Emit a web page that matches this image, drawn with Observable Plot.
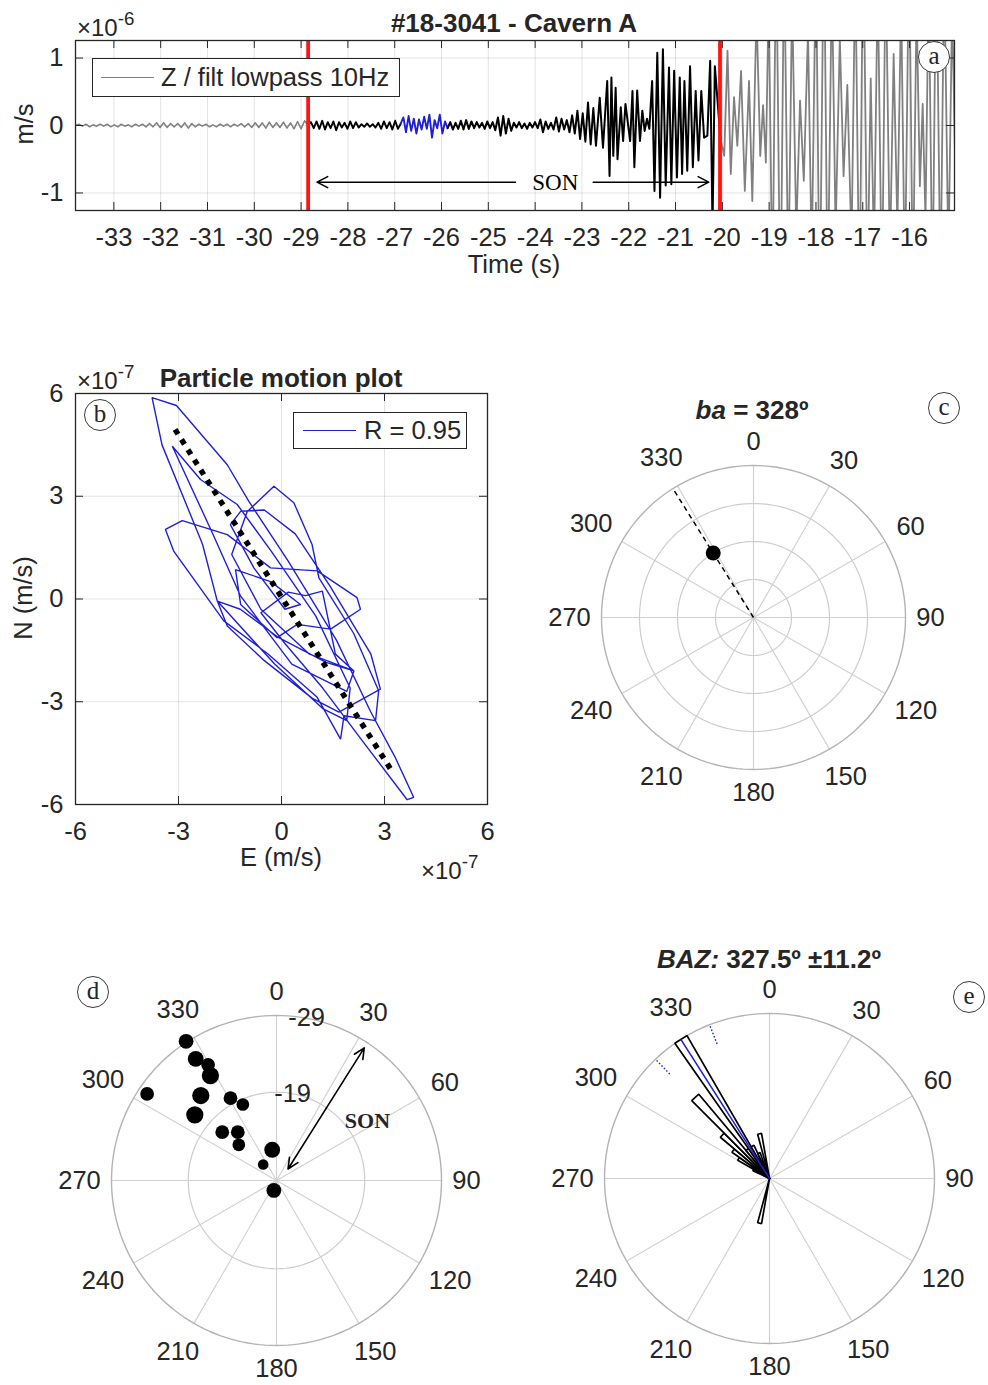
<!DOCTYPE html>
<html>
<head>
<meta charset="utf-8">
<script src="https://cdn.jsdelivr.net/npm/d3@7"></script>
<script src="https://cdn.jsdelivr.net/npm/@observablehq/plot@0.6"></script>
<style>
  html, body { margin: 0; padding: 0; background: #fff; overflow: hidden; }
  #page { position: relative; width: 988px; height: 1385px; overflow: hidden; background: #fff; }
  #page svg { position: absolute; }
  .sup { font-size: 0.78em; position: relative; top: -0.6em; }
</style>
</head>
<body>
<div id="page"></div>
<script>
// ---------------------------------------------------------------------------
// (a) Vertical component, lowpass 10 Hz, amplitudes in 1e-6 m/s
// ---------------------------------------------------------------------------
const timeTicks = [-33, -32, -31, -30, -29, -28, -27, -26, -25, -24, -23, -22, -21, -20, -19, -18, -17, -16];
const ampTicks = [-1, 0, 1];
const sonWindow = [-28.85, -20.05];

// evenly sampled stretches: [start, end] time and the extremes read along them
const preSpan = [-33.82, -28.85];
const preAmp = [0.00, 0.02, -0.01, 0.02, -0.02, 0.01, -0.01, 0.02, -0.01, 0.02,
  -0.02, 0.01, -0.02, 0.02, -0.01, 0.01, -0.02, 0.02, -0.01, 0.02,
  -0.02, 0.03, -0.02, 0.04, -0.03, 0.04, -0.03, 0.03, -0.02, 0.03,
  -0.03, 0.04, -0.04, 0.03, -0.02, 0.02, -0.01, 0.02, -0.02, 0.01,
  -0.02, 0.02, -0.01, 0.02, -0.02, 0.02, -0.01, 0.03, -0.02, 0.03,
  -0.03, 0.04, -0.03, 0.04, -0.04, 0.05, -0.03, 0.04, -0.03, 0.05,
  -0.04, 0.04, -0.05, 0.06, -0.05, 0.07, 0.00];

const sonSpan1 = [-28.85, -26.87];
const sonAmp1 = [0.00, 0.05, -0.04, 0.06, -0.05, 0.07, -0.06, 0.05, -0.04, 0.06, -0.07, 0.05,
  -0.03, 0.04, -0.05, 0.06, -0.04, 0.05, -0.03, 0.02, -0.02, 0.03, -0.02, 0.02, -0.03, 0.04,
  -0.05, 0.06, -0.04, 0.05, -0.06, 0.07, -0.05, 0.03];

// analysed window (blue)
const blueSpan = [-26.87, -25.87];
const blueAmp = [0.03, 0.12, -0.10, 0.14, -0.08, 0.10, -0.12, 0.09, -0.06, 0.13, -0.05, 0.16,
  -0.18, 0.08, -0.04, 0.16, -0.12, 0.06, -0.04];

const sonSpan2 = [-25.87, -22.70];
const sonAmp2 = [-0.04, 0.05, -0.06, 0.04, -0.05, 0.07, -0.06, 0.08, -0.05, 0.06,
  -0.04, 0.05, -0.03, 0.04, -0.05, 0.06, -0.04, 0.05, -0.07, 0.12,
  -0.15, 0.14, -0.12, 0.10, -0.08, 0.04, -0.03, 0.05, -0.04, 0.03,
  -0.05, 0.04, -0.03, 0.05, -0.04, 0.09, -0.10, 0.06, -0.05, 0.04,
  -0.06, 0.12, -0.09, 0.10, -0.06, 0.08, -0.10, 0.15, -0.12, 0.22,
  -0.20, 0.18, -0.24, 0.34, -0.28, 0.26, -0.30];

// main SON burst, extremes with their times
const burstTime = [-22.70, -22.62, -22.55, -22.46, -22.41, -22.37, -22.33, -22.28, -22.24, -22.17,
  -22.12, -22.07, -21.97, -21.92, -21.88, -21.82, -21.76, -21.71, -21.66, -21.61,
  -21.56, -21.50, -21.45, -21.39, -21.33, -21.27, -21.21, -21.14, -21.09, -21.03,
  -20.97, -20.91, -20.86, -20.81, -20.75, -20.69, -20.63, -20.57, -20.51, -20.45,
  -20.39, -20.32, -20.26, -20.21, -20.16, -20.04];
const burstAmp = [-0.30, 0.41, -0.33, 0.66, -0.75, 0.71, -0.45, 0.56, -0.50, 0.27,
  -0.23, 0.32, -0.23, 0.51, -0.62, 0.52, -0.23, 0.22, -0.08, 0.10,
  -0.05, 0.66, -0.97, 1.08, -1.07, 1.13, -0.89, 0.86, -0.87, 0.81,
  -0.77, 0.71, -0.72, 0.66, -0.67, 0.88, -0.62, 0.51, -0.52, 0.51,
  -0.18, -0.15, 0.96, -1.50, 0.88, -0.20];

// following arrivals (grey), clipped by the axes
const tailTime = [-20.04, -19.96, -19.89, -19.82, -19.75, -19.68, -19.60, -19.52, -19.43, -19.36,
  -19.27, -19.19, -19.13, -19.07, -19.01, -18.93, -18.85, -18.76, -18.68, -18.59,
  -18.51, -18.42, -18.34, -18.26, -18.17, -18.09, -18.00, -17.92, -17.83, -17.75,
  -17.66, -17.58, -17.49, -17.41, -17.33, -17.24, -17.16, -17.07, -16.99, -16.90,
  -16.83, -16.76, -16.68, -16.59, -16.51, -16.42, -16.34, -16.26, -16.18, -16.10,
  -16.01, -15.93, -15.85, -15.78, -15.72, -15.66, -15.59, -15.51, -15.43, -15.34,
  -15.26, -15.17, -15.09, -15.00];
const tailAmp = [-0.20, -0.45, 1.11, -0.72, 0.42, -0.30, 0.81, -0.97, 0.66, -1.12,
  1.70, -0.45, 0.30, -0.55, 1.90, -2.50, 2.80, -3.00, 2.60, -2.40,
  1.90, -1.60, 0.37, -0.82, 1.40, -2.00, 2.60, -2.90, 3.00, -2.70,
  2.20, -1.60, 1.30, -0.75, 0.60, -1.80, 2.40, -2.80, 3.00, -2.50,
  0.70, -1.90, 2.20, -2.60, 2.50, -2.00, 1.06, -1.50, 1.90, -2.40,
  2.70, -2.50, 1.80, -0.90, 0.32, -1.40, 2.20, -2.60, 2.80, -2.50,
  2.40, -2.00, 1.80, -1.50];

// ---------------------------------------------------------------------------
// (b) Particle motion, E / N in 1e-7 m/s
// ---------------------------------------------------------------------------
const enTicks = [-6, -3, 0, 3, 6];
const pmE = [0.55, -0.30, -1.34, -1.19, -0.13, 0.46, 1.43, 2.30, 2.20, 1.04,
  -0.32, -1.58, -2.89, -3.38, -3.14, -1.68, -0.40, 1.04, 1.72, 1.82,
  2.74, 2.83, 2.10, 1.09, 0.89, 0.36, -0.22, -1.00, -1.45, -0.60,
  0.80, 2.11, 1.90, 0.30, -1.20, -2.00, -3.18, -2.36, -1.29, -0.30,
  1.00, 2.00, 1.90, 1.20, -0.20, -1.87, -2.30, -3.48, -3.77, -3.06,
  -1.58, -0.95, 0.20, 1.60, 2.60, 3.30, 3.85, 3.66, 2.40, 1.20,
  0.10, -0.60, 0.20, 0.70, 1.19, 1.57, 2.11, 1.30, -0.08, -1.20,
  -1.87, -1.58, -0.50, 0.90, 1.67, 2.88, 2.60, 1.40, 0.40, -0.50,
  -1.19, -1.49, -0.80, 0.10, 0.55];
const pmN = [-0.16, 0.50, 0.86, -0.16, -1.13, -0.74, -0.88, -0.30, 0.04, 0.82,
  0.91, 1.88, 2.29, 2.03, 1.40, -0.64, -1.60, -2.87, -4.09, -3.41,
  -3.55, -2.68, -1.00, 0.62, 1.59, 2.81, 3.29, 2.55, 1.30, -0.30,
  -1.60, -2.10, -2.70, -1.90, 0.10, 1.90, 4.46, 3.49, 2.76, 1.40,
  -0.50, -2.60, -3.55, -3.20, -1.90, -0.06, 1.60, 4.50, 5.88, 5.65,
  3.92, 2.85, 1.10, -1.20, -3.30, -4.60, -5.79, -5.86, -4.20, -2.60,
  -1.30, -0.40, 0.20, 0.10, 0.23, -1.61, -2.10, -1.85, -1.13, -0.30,
  -0.06, -0.79, -1.80, -2.90, -3.30, -2.63, -1.60, 0.40, 1.90, 2.60,
  2.56, 2.17, 0.90, -0.30, -0.16];
const fitE = [-3.10, 3.20];
const fitN = [4.95, -5.00];
const corrR = 0.95;

// ---------------------------------------------------------------------------
// (c) back-azimuth from particle motion
// ---------------------------------------------------------------------------
const angleTicks = [0, 30, 60, 90, 120, 150, 180, 210, 240, 270, 300, 330];
const cRings = [0.25, 0.5, 0.75, 1];
const baAngle = 328;
const baRadius = 0.5;

// ---------------------------------------------------------------------------
// (d) back-azimuth per sliding window, radius = window time (s)
// ---------------------------------------------------------------------------
const dRingTimes = [-19, -29];
const dTimeCenter = -7.5;
const dAzimuth = [327, 326.4, 329.4, 327.8, 303.8, 318.3, 330.8, 336.1, 308.8, 311.7, 321.3, 313.4, 352, 320.2, 194.9];
const dTime = [-29.13, -26.52, -25.01, -23.66, -27.79, -22.33, -19.79, -18.33, -21.16, -16.97, -15.57, -14.26, -11.54, -10.21, -8.84];
const dCorr = [0.92, 0.95, 0.89, 0.99, 0.89, 0.99, 0.89, 0.86, 0.99, 0.89, 0.89, 0.86, 0.95, 0.80, 0.92];
const sonArrowD = [[45, -9.62], [33.5, -28.22]];   // [azimuth, time]
const sonLabelD = [56.6, -21.7];

// ---------------------------------------------------------------------------
// (e) rose histogram of back-azimuths
// ---------------------------------------------------------------------------
const roseBinStart = [190, 295, 300, 305, 310, 315, 320, 325, 330, 335, 345];
const roseCount = [5, 2, 4, 5, 7, 12, 4, 18, 4, 3, 5];
const roseBinWidth = 5;
const baz = 327.5;
const bazStd = 11.2;

// ---------------------------------------------------------------------------
const FONT = '"Liberation Sans", Arial, Helvetica, sans-serif';
const SERIF = '"Liberation Serif", "Times New Roman", serif';
const INK = "#262626";
const BLUE = "#1f1fd6";
const FS = 25.5;
const page = document.getElementById("page");
const baseStyle = {fontFamily: FONT, fontSize: FS + "px", color: INK, background: "transparent", overflow: "visible"};

const rad = a => a * Math.PI / 180;
const px = (a, r) => r * Math.sin(rad(a));
const py = (a, r) => r * Math.cos(rad(a));

function sampled(span, values) {
  const step = (span[1] - span[0]) / (values.length - 1);
  return values.map((v, i) => ({t: span[0] + i * step, v}));
}
const paired = (times, values) => times.map((t, i) => ({t, v: values[i]}));

function place(svg, left, top) {
  svg.style.left = left + "px";
  svg.style.top = top + "px";
  page.appendChild(svg);
}

function label(html, x, y, o = {}) {
  const el = document.createElement("div");
  el.innerHTML = html;
  const tx = o.anchor === "start" ? "0" : o.anchor === "end" ? "-100%" : "-50%";
  Object.assign(el.style, {
    position: "absolute", left: x + "px", top: y + "px", whiteSpace: "nowrap", lineHeight: "1",
    fontFamily: o.family || FONT, fontSize: (o.size || FS) + "px", fontWeight: o.weight || "normal",
    color: o.color || INK,
    transform: `translate(${tx}, -50%)` + (o.rotate ? ` rotate(${o.rotate}deg)` : "")
  });
  page.appendChild(el);
  return el;
}

function tag(letter, x, y) {
  const el = document.createElement("div");
  el.textContent = letter;
  Object.assign(el.style, {
    position: "absolute", left: (x - 16) + "px", top: (y - 16) + "px", width: "32px", height: "32px",
    boxSizing: "border-box", border: "1.3px solid #3a3a3a", borderRadius: "50%", background: "#fff",
    fontFamily: SERIF, fontSize: "25px", lineHeight: "27px", textAlign: "center", color: INK
  });
  page.appendChild(el);
}

function legend(x, y, w, h, color, text, swatchFrom, swatchTo, textX) {
  const box = document.createElement("div");
  Object.assign(box.style, {
    position: "absolute", left: x + "px", top: y + "px", width: w + "px", height: h + "px",
    boxSizing: "border-box", border: "1.5px solid " + INK, background: "#fff"
  });
  const sw = document.createElement("div");
  Object.assign(sw.style, {
    position: "absolute", left: swatchFrom + "px", width: (swatchTo - swatchFrom) + "px", top: "calc(50% - 1px)",
    borderTop: "1.8px solid " + color
  });
  const tx = document.createElement("div");
  tx.textContent = text;
  Object.assign(tx.style, {
    position: "absolute", left: textX + "px", top: "50%", transform: "translateY(-50%)",
    fontFamily: FONT, fontSize: FS + "px", lineHeight: "1", whiteSpace: "nowrap", color: INK
  });
  box.append(sw, tx);
  page.appendChild(box);
}

// inward box ticks on all four sides
function boxTicks(xt, yt, fw, fh, len = 8) {
  return [
    Plot.ruleX(xt, {stroke: INK, strokeWidth: 1, insetBottom: fh - len}),
    Plot.ruleX(xt, {stroke: INK, strokeWidth: 1, insetTop: fh - len}),
    Plot.ruleY(yt, {stroke: INK, strokeWidth: 1, insetRight: fw - len}),
    Plot.ruleY(yt, {stroke: INK, strokeWidth: 1, insetLeft: fw - len})
  ];
}

// ---------------------------- panel (a) -----------------------------------
{
  const fw = 879, fh = 170;
  const sonArrowY = -0.84;
  const sonArrows = [{from: -24.42, to: -28.66}, {from: -22.76, to: -20.29}];
  const svg = Plot.plot({
    width: 988, height: 290,
    marginLeft: 75, marginRight: 34, marginTop: 40, marginBottom: 80,
    style: baseStyle,
    x: {domain: [-33.82, -15.04]},
    y: {domain: [-1.26, 1.26]},
    marks: [
      Plot.gridX({ticks: timeTicks, stroke: "#000", strokeOpacity: 0.11, strokeWidth: 1}),
      Plot.gridY({ticks: ampTicks, stroke: "#000", strokeOpacity: 0.11, strokeWidth: 1}),
      Plot.line(sampled(preSpan, preAmp), {x: "t", y: "v", stroke: "#808080", strokeWidth: 1.5, clip: true}),
      Plot.line(sampled(sonSpan1, sonAmp1), {x: "t", y: "v", stroke: "#000", strokeWidth: 1.9, clip: true}),
      Plot.line(sampled(blueSpan, blueAmp), {x: "t", y: "v", stroke: BLUE, strokeWidth: 1.9, clip: true}),
      Plot.line(sampled(sonSpan2, sonAmp2).concat(paired(burstTime, burstAmp).slice(1)),
        {x: "t", y: "v", stroke: "#000", strokeWidth: 2, clip: true}),
      Plot.line(paired(tailTime, tailAmp), {x: "t", y: "v", stroke: "#808080", strokeWidth: 1.8, clip: true}),
      Plot.ruleX(sonWindow, {stroke: "#ff1515", strokeWidth: 3.8}),
      Plot.arrow(sonArrows, {x1: "from", x2: "to", y1: () => sonArrowY, y2: () => sonArrowY,
        stroke: "#000", strokeWidth: 1.5, headLength: 12, headAngle: 55}),
      Plot.text(["SON"], {x: () => -23.57, y: () => sonArrowY, fontFamily: SERIF, fontSize: 23, fill: "#000"}),
      Plot.frame({stroke: INK, strokeWidth: 1.3}),
      ...boxTicks(timeTicks, ampTicks, fw, fh),
      Plot.axisX({ticks: timeTicks, tickSize: 0, tickPadding: 17, tickFormat: d => String(d), label: null}),
      Plot.axisY({ticks: ampTicks, tickSize: 0, tickPadding: 12, tickFormat: d => String(d), label: null})
    ]
  });
  place(svg, 0, 0);
}

// ---------------------------- panel (b) -----------------------------------
{
  const fw = 412, fh = 411;
  const pm = pmE.map((e, i) => ({e, n: pmN[i]}));
  const fit = fitE.map((e, i) => ({e, n: fitN[i]}));
  const svg = Plot.plot({
    width: 520, height: 560,
    marginLeft: 75, marginRight: 33, marginTop: 53, marginBottom: 96,
    style: baseStyle,
    x: {domain: [-6, 6]},
    y: {domain: [-6, 6]},
    marks: [
      Plot.gridX({ticks: enTicks, stroke: "#000", strokeOpacity: 0.11}),
      Plot.gridY({ticks: enTicks, stroke: "#000", strokeOpacity: 0.11}),
      Plot.line(pm, {x: "e", y: "n", stroke: BLUE, strokeWidth: 1.4, strokeLinejoin: "miter"}),
      Plot.line(fit, {x: "e", y: "n", stroke: "#000", strokeWidth: 5.5, strokeDasharray: "5.5,6.5", strokeLinecap: "butt"}),
      Plot.frame({stroke: INK, strokeWidth: 1.3}),
      ...boxTicks(enTicks, enTicks, fw, fh),
      Plot.axisX({ticks: enTicks, tickSize: 0, tickPadding: 17, tickFormat: d => String(d), label: null}),
      Plot.axisY({ticks: enTicks, tickSize: 0, tickPadding: 12, tickFormat: d => String(d), label: null})
    ]
  });
  place(svg, 0, 340);
}

// ---------------------------- polar helpers -------------------------------
const traceAngles = d3.range(0, 362, 2);

function ringMarks(radii, outer) {
  const pts = radii.flatMap(r => traceAngles.map(a => ({r, x: px(a, r), y: py(a, r)})));
  const outerPts = traceAngles.map(a => ({x: px(a, outer), y: py(a, outer)}));
  return [
    Plot.link(angleTicks, {x1: () => 0, y1: () => 0, x2: a => px(a, outer), y2: a => py(a, outer),
      stroke: "#d0d0d0", strokeWidth: 1.1}),
    Plot.line(pts, {x: "x", y: "y", z: "r", stroke: "#cdcdcd", strokeWidth: 1.2}),
    Plot.line(outerPts, {x: "x", y: "y", stroke: "#b3b3b3", strokeWidth: 1.4})
  ];
}

function angleLabels(R) {
  const dist = a => {
    const w = String(a).length * 14;
    return (R + 11 + (w / 2) * Math.abs(Math.sin(rad(a))) + 12.5 * Math.abs(Math.cos(rad(a)))) / R;
  };
  return Plot.text(angleTicks, {x: a => px(a, dist(a)), y: a => py(a, dist(a)), text: a => String(a),
    fontSize: FS, fill: INK});
}

function polarPlot({cx, cy, R, left, right, top, bottom, marks, extra = {}}) {
  const svg = Plot.plot({
    width: left + right, height: top + bottom, margin: 0,
    style: baseStyle,
    x: {domain: [-left / R, right / R], axis: null},
    y: {domain: [-bottom / R, top / R], axis: null},
    ...extra,
    marks
  });
  place(svg, cx - left, cy - top);
}

// ---------------------------- panel (c) -----------------------------------
{
  const R = 152;
  polarPlot({
    cx: 752.5, cy: 616.5, R, left: 215, right: 215, top: 215, bottom: 215,
    marks: [
      ...ringMarks(cRings.filter(r => r < 1), 1),
      Plot.link([baAngle], {x1: () => 0, y1: () => 0, x2: a => px(a, 1), y2: a => py(a, 1),
        stroke: "#000", strokeWidth: 1.5, strokeDasharray: "5,4"}),
      Plot.dot([baAngle], {x: a => px(a, baRadius), y: a => py(a, baRadius), r: 7.5, fill: "#000"}),
      angleLabels(R)
    ]
  });
}

// ---------------------------- panel (d) -----------------------------------
{
  const R = 165;
  const dOuter = dRingTimes[dRingTimes.length - 1];
  const rOf = t => (t - dTimeCenter) / (dOuter - dTimeCenter);
  const dots = dAzimuth.map((a, i) => ({x: px(a, rOf(dTime[i])), y: py(a, rOf(dTime[i])), corr: dCorr[i]}));
  const [p0, p1] = sonArrowD.map(([a, t]) => ({x: px(a, rOf(t)), y: py(a, rOf(t))}));
  const mid = {x: (p0.x + p1.x) / 2, y: (p0.y + p1.y) / 2};
  const arrows = [{x1: mid.x, y1: mid.y, x2: p0.x, y2: p0.y}, {x1: mid.x, y1: mid.y, x2: p1.x, y2: p1.y}];
  polarPlot({
    cx: 276, cy: 1180, R, left: 232, right: 232, top: 232, bottom: 205,
    extra: {r: {type: "linear", domain: [0.8, 1.0], range: [5.3, 8.8]}},
    marks: [
      ...ringMarks(dRingTimes.filter(t => t !== dOuter).map(rOf), 1),
      Plot.text(dRingTimes, {x: t => px(10.5, rOf(t)), y: t => py(10.5, rOf(t)), text: t => String(t),
        fontSize: FS, fill: INK}),
      Plot.dot(dots, {x: "x", y: "y", r: "corr", fill: "#000"}),
      Plot.arrow(arrows, {x1: "x1", y1: "y1", x2: "x2", y2: "y2", stroke: "#000", strokeWidth: 1.6,
        headLength: 11, headAngle: 50}),
      Plot.text(["SON"], {x: () => px(sonLabelD[0], rOf(sonLabelD[1])), y: () => py(sonLabelD[0], rOf(sonLabelD[1])),
        fontFamily: SERIF, fontSize: 22, fontWeight: "bold", fill: INK}),
      angleLabels(R)
    ]
  });
}

// ---------------------------- panel (e) -----------------------------------
{
  const R = 165;
  const rMax = d3.max(roseCount);
  const wedges = roseBinStart.flatMap((s, i) => {
    const r = roseCount[i] / rMax;
    return [
      {bin: i, x: 0, y: 0},
      {bin: i, x: px(s, r), y: py(s, r)},
      {bin: i, x: px(s + roseBinWidth, r), y: py(s + roseBinWidth, r)},
      {bin: i, x: 0, y: 0}
    ];
  });
  const spread = [baz - bazStd, baz + bazStd];
  polarPlot({
    cx: 769.3, cy: 1178.3, R, left: 232, right: 214, top: 232, bottom: 206,
    marks: [
      ...ringMarks([], 1),
      Plot.line(wedges, {x: "x", y: "y", z: "bin", fill: "#fff", stroke: "#000", strokeWidth: 1.7,
        strokeLinejoin: "miter"}),
      Plot.link([baz], {x1: () => 0, y1: () => 0, x2: a => px(a, 1), y2: a => py(a, 1), stroke: BLUE, strokeWidth: 1.6}),
      Plot.link(spread, {x1: a => px(a, 0.875), y1: a => py(a, 0.875), x2: a => px(a, 1), y2: a => py(a, 1),
        stroke: BLUE, strokeWidth: 1.4, strokeDasharray: "1.5,2"}),
      angleLabels(R)
    ]
  });
}

// ---------------------------- titles, labels, legends ----------------------
label("#18-3041 - Cavern A", 514, 23, {weight: "bold", size: 26});
label('×10<span class="sup">-6</span>', 77, 28, {anchor: "start", size: 24});
label("m/s", 25, 124, {rotate: -90});
label("Time (s)", 514, 265);
legend(92, 58, 308, 39, "#808080", "Z / filt lowpass 10Hz", 8, 61, 68);
tag("a", 934, 57);

label("Particle motion plot", 281, 378, {weight: "bold", size: 26});
label('×10<span class="sup">-7</span>', 77, 381, {anchor: "start", size: 24});
label("N (m/s)", 24, 598, {rotate: -90});
label("E (m/s)", 281, 858);
label('×10<span class="sup">-7</span>', 421, 871, {anchor: "start", size: 24});
legend(293, 412, 174, 37, BLUE, "R = " + corrR.toFixed(2), 9, 62, 70);
tag("b", 100, 415);

label(`<i>ba</i> = ${baAngle}º`, 752, 410, {weight: "bold", size: 26});
tag("c", 944, 408);

tag("d", 93, 992);

label(`<i>BAZ:</i> ${baz.toFixed(1)}º ±${bazStd.toFixed(1)}º`, 769, 959, {weight: "bold", size: 26});
tag("e", 969, 997);
</script>
</body>
</html>
